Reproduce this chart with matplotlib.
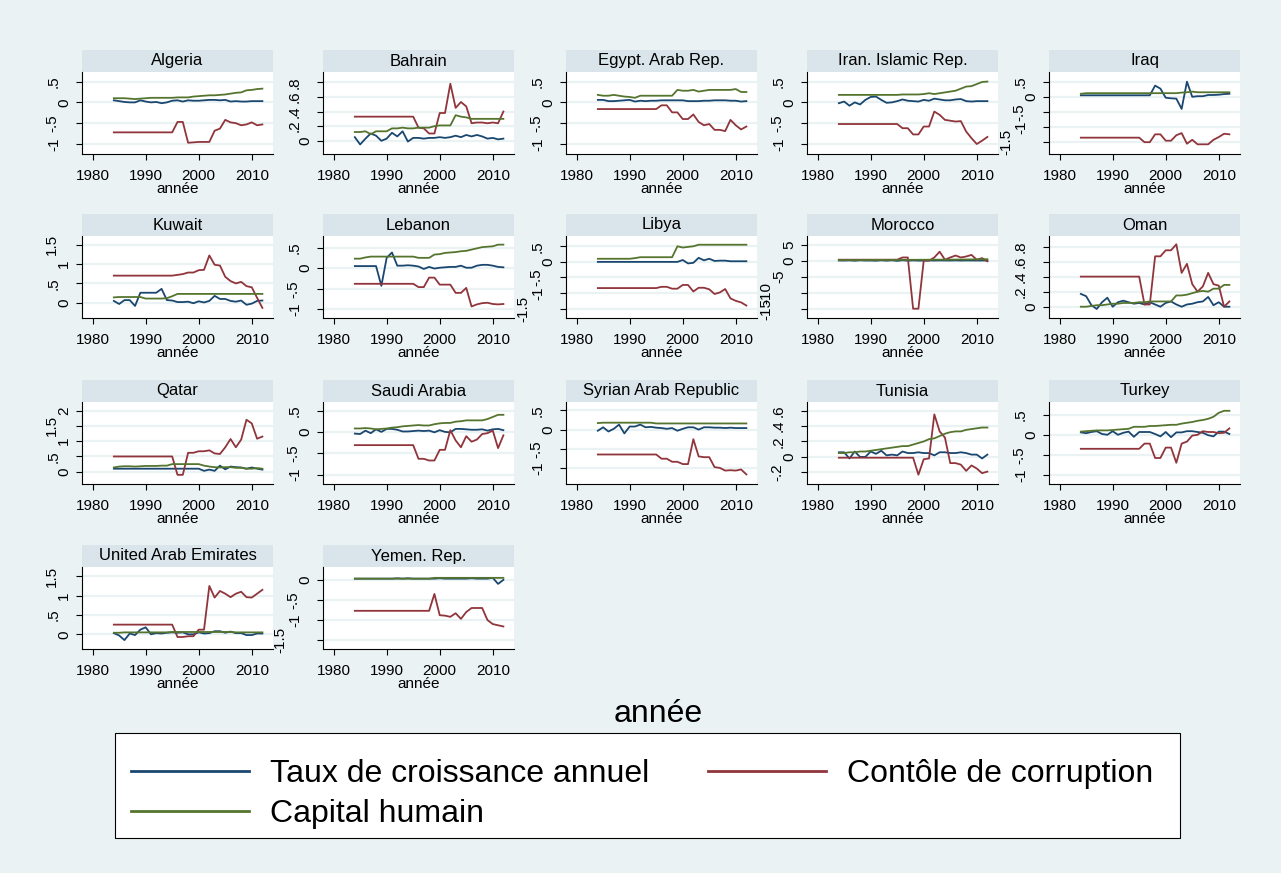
import matplotlib
matplotlib.use("Agg")
import matplotlib.pyplot as plt
import matplotlib.transforms as mtrans
from matplotlib.lines import Line2D
from matplotlib.patches import Rectangle

plt.rcParams['font.family'] = ['Liberation Sans', 'DejaVu Sans']

years = list(range(1984, 2013))

# Algeria
alg_growth = [0.05, 0.03, 0.01, 0.0, 0.0, 0.05, 0.02, 0.0, 0.01, -0.02, 0.0, 0.04, 0.05, 0.02, 0.05,
              0.04, 0.04, 0.05, 0.06, 0.06, 0.05, 0.06, 0.02, 0.03, 0.02, 0.02, 0.03, 0.03, 0.03]
alg_capital = [0.10, 0.10, 0.10, 0.09, 0.08, 0.09, 0.10, 0.11, 0.11, 0.11, 0.11, 0.11, 0.12, 0.12, 0.12,
               0.14, 0.15, 0.16, 0.17, 0.17, 0.18, 0.19, 0.21, 0.23, 0.24, 0.29, 0.30, 0.32, 0.33]
alg_corrupt = [-0.72, -0.72, -0.72, -0.72, -0.72, -0.72, -0.72, -0.72, -0.72, -0.72, -0.72, -0.72,
               -0.47, -0.47, -0.97, -0.96, -0.95, -0.95, -0.95, -0.68, -0.63, -0.42, -0.48, -0.50,
               -0.55, -0.53, -0.48, -0.55, -0.53]

# Bahrain
bhr_growth = [0.05, -0.05, 0.03, 0.10, 0.07, 0.0, 0.03, 0.11, 0.06, 0.13, -0.01, 0.04, 0.04, 0.03, 0.04,
              0.04, 0.05, 0.04, 0.05, 0.07, 0.05, 0.08, 0.06, 0.08, 0.06, 0.03, 0.04, 0.02, 0.03]
bhr_capital = [0.12, 0.12, 0.13, 0.09, 0.13, 0.13, 0.13, 0.17, 0.17, 0.18, 0.17, 0.17, 0.18, 0.18, 0.18,
               0.20, 0.21, 0.21, 0.21, 0.35, 0.33, 0.32, 0.30, 0.30, 0.30, 0.30, 0.30, 0.30, 0.30]
bhr_corrupt = [0.33, 0.33, 0.33, 0.33, 0.33, 0.33, 0.33, 0.33, 0.33, 0.33, 0.33, 0.33,
               0.18, 0.17, 0.10, 0.10, 0.38, 0.38, 0.78, 0.45, 0.53, 0.47, 0.24, 0.25, 0.25,
               0.24, 0.25, 0.24, 0.40]

# Egypt
egy_growth = [0.06, 0.06, 0.03, 0.03, 0.04, 0.05, 0.06, 0.02, 0.04, 0.03, 0.04, 0.04, 0.05, 0.05, 0.05,
              0.05, 0.05, 0.03, 0.03, 0.03, 0.04, 0.04, 0.05, 0.05, 0.05, 0.04, 0.04, 0.02, 0.03]
egy_capital = [0.18, 0.16, 0.16, 0.18, 0.16, 0.14, 0.13, 0.11, 0.16, 0.16, 0.16, 0.16, 0.16, 0.16, 0.16,
               0.30, 0.28, 0.28, 0.30, 0.26, 0.28, 0.30, 0.30, 0.30, 0.30, 0.30, 0.32, 0.25, 0.25]
egy_corrupt = [-0.16, -0.16, -0.16, -0.16, -0.16, -0.16, -0.16, -0.16, -0.16, -0.16, -0.16, -0.16,
               -0.07, -0.07, -0.24, -0.24, -0.40, -0.40, -0.29, -0.47, -0.55, -0.52, -0.66, -0.66,
               -0.69, -0.42, -0.55, -0.65, -0.58]

# Iran
irn_growth = [-0.02, 0.02, -0.08, 0.0, -0.05, 0.06, 0.13, 0.14, 0.06, -0.01, 0.0, 0.03, 0.07, 0.04, 0.03,
              0.02, 0.06, 0.04, 0.09, 0.07, 0.05, 0.05, 0.07, 0.08, 0.03, 0.02, 0.03, 0.03, 0.03]
irn_capital = [0.18, 0.18, 0.18, 0.18, 0.18, 0.18, 0.18, 0.18, 0.18, 0.18, 0.18, 0.18, 0.19, 0.19, 0.19,
               0.19, 0.20, 0.22, 0.20, 0.22, 0.24, 0.26, 0.28, 0.33, 0.38, 0.39, 0.44, 0.49, 0.50]
irn_corrupt = [-0.52, -0.52, -0.52, -0.52, -0.52, -0.52, -0.52, -0.52, -0.52, -0.52, -0.52, -0.52,
               -0.62, -0.62, -0.77, -0.77, -0.58, -0.58, -0.22, -0.30, -0.42, -0.44, -0.46, -0.45,
               -0.70, -0.86, -1.00, -0.92, -0.83]

# Iraq
irq_growth = [0.05, 0.05, 0.05, 0.05, 0.05, 0.05, 0.05, 0.05, 0.05, 0.05, 0.05, 0.05, 0.05, 0.05,
              0.37, 0.27, -0.03, -0.05, -0.06, -0.40, 0.50, 0.0, 0.02, 0.02, 0.06, 0.06, 0.07, 0.09, 0.10]
irq_capital = [0.10, 0.12, 0.12, 0.12, 0.12, 0.12, 0.12, 0.12, 0.12, 0.12, 0.12, 0.12, 0.12, 0.12, 0.12,
               0.12, 0.12, 0.12, 0.12, 0.14, 0.15, 0.17, 0.15, 0.15, 0.15, 0.15, 0.15, 0.15, 0.15]
irq_corrupt = [-1.35, -1.35, -1.35, -1.35, -1.35, -1.35, -1.35, -1.35, -1.35, -1.35, -1.35, -1.35,
               -1.50, -1.50, -1.24, -1.24, -1.45, -1.45, -1.27, -1.20, -1.55, -1.42, -1.57, -1.57,
               -1.57, -1.42, -1.33, -1.22, -1.24]

# Kuwait
kwt_growth = [0.05, -0.03, 0.07, 0.07, -0.08, 0.26, 0.26, 0.26, 0.26, 0.36, 0.07, 0.06, 0.02, 0.02, 0.03,
              -0.01, 0.04, 0.01, 0.05, 0.18, 0.10, 0.10, 0.05, 0.03, 0.06, -0.05, -0.02, 0.05, 0.06]
kwt_capital = [0.14, 0.15, 0.15, 0.15, 0.15, 0.15, 0.11, 0.11, 0.11, 0.11, 0.12, 0.17, 0.23, 0.23, 0.23,
               0.23, 0.23, 0.23, 0.23, 0.23, 0.23, 0.23, 0.23, 0.23, 0.23, 0.23, 0.23, 0.23, 0.23]
kwt_corrupt = [0.70, 0.70, 0.70, 0.70, 0.70, 0.70, 0.70, 0.70, 0.70, 0.70, 0.70, 0.70,
               0.72, 0.74, 0.78, 0.78, 0.84, 0.85, 1.22, 0.98, 0.96, 0.67, 0.56, 0.50, 0.54,
               0.43, 0.40, 0.13, -0.13]

# Lebanon
lbn_growth = [0.05, 0.05, 0.05, 0.05, 0.05, -0.43, 0.25, 0.38, 0.06, 0.06, 0.07, 0.06, 0.04, -0.02, 0.03,
              -0.01, 0.01, 0.02, 0.03, 0.03, 0.06, 0.01, 0.01, 0.06, 0.08, 0.08, 0.06, 0.03, 0.02]
lbn_capital = [0.23, 0.23, 0.26, 0.28, 0.28, 0.28, 0.28, 0.28, 0.28, 0.28, 0.28, 0.28, 0.25, 0.25, 0.25,
               0.33, 0.34, 0.37, 0.38, 0.39, 0.41, 0.42, 0.45, 0.48, 0.51, 0.52, 0.53, 0.57, 0.57]
lbn_corrupt = [-0.38, -0.38, -0.38, -0.38, -0.38, -0.38, -0.38, -0.38, -0.38, -0.38, -0.38, -0.38,
               -0.46, -0.46, -0.23, -0.23, -0.40, -0.40, -0.40, -0.60, -0.60, -0.48, -0.93, -0.88,
               -0.85, -0.84, -0.87, -0.88, -0.87]

# Libya
lby_growth = [0.0, 0.0, 0.0, 0.0, 0.0, 0.0, 0.0, 0.0, 0.0, 0.0, 0.0, 0.0, 0.0, 0.0, 0.0, 0.0,
              0.06, -0.05, -0.03, 0.13, 0.05, 0.10, 0.03, 0.04, 0.04, 0.02, 0.02, 0.02, 0.02]
lby_capital = [0.10, 0.10, 0.10, 0.10, 0.10, 0.10, 0.10, 0.12, 0.15, 0.15, 0.15, 0.15, 0.15, 0.15, 0.15,
               0.50, 0.46, 0.48, 0.50, 0.55, 0.55, 0.55, 0.55, 0.55, 0.55, 0.55, 0.55, 0.55, 0.55]
lby_corrupt = [-0.84, -0.84, -0.84, -0.84, -0.84, -0.84, -0.84, -0.84, -0.84, -0.84, -0.84, -0.84,
               -0.80, -0.80, -0.86, -0.86, -0.74, -0.74, -0.95, -0.83, -0.83, -0.88, -1.03, -0.98,
               -0.87, -1.17, -1.25, -1.30, -1.40]

# Morocco
mar_growth = [0.05, 0.03, 0.08, -0.02, 0.10, 0.03, 0.04, -0.02, 0.10, -0.01, 0.10, -0.07, 0.12, -0.02, 0.08,
              0.01, 0.01, 0.06, 0.03, 0.06, 0.05, 0.03, 0.08, 0.03, 0.06, 0.05, 0.04, 0.05, 0.03]
mar_capital = [0.20, 0.20, 0.21, 0.21, 0.22, 0.22, 0.23, 0.23, 0.24, 0.24, 0.25, 0.25, 0.26, 0.26, 0.27,
               0.27, 0.28, 0.29, 0.30, 0.31, 0.32, 0.33, 0.34, 0.36, 0.37, 0.39, 0.41, 0.43, 0.45]
mar_corrupt = [0.30, 0.30, 0.30, 0.30, 0.30, 0.30, 0.30, 0.30, 0.30, 0.30, 0.30, 0.30,
               1.0, 1.0, -15.0, -15.0, 0.0, 0.0, 1.0, 2.8, 0.3, 1.0, 1.6, 1.0, 1.3, 1.8, 0.3, 0.8, -0.2]

# Oman
omn_growth = [0.17, 0.14, 0.02, -0.03, 0.06, 0.12, 0.0, 0.06, 0.08, 0.06, 0.04, 0.05, 0.03, 0.06, 0.03,
              0.0, 0.05, 0.07, 0.03, 0.0, 0.03, 0.04, 0.06, 0.07, 0.13, 0.02, 0.06, 0.0, 0.0]
omn_capital = [0.0, 0.0, 0.01, 0.02, 0.02, 0.03, 0.04, 0.04, 0.05, 0.05, 0.05, 0.06, 0.06, 0.07, 0.07,
               0.07, 0.07, 0.07, 0.15, 0.15, 0.16, 0.18, 0.20, 0.21, 0.20, 0.24, 0.24, 0.29, 0.29]
omn_corrupt = [0.40, 0.40, 0.40, 0.40, 0.40, 0.40, 0.40, 0.40, 0.40, 0.40, 0.40, 0.40,
               0.03, 0.03, 0.67, 0.67, 0.75, 0.75, 0.83, 0.45, 0.57, 0.30, 0.20, 0.27, 0.45,
               0.30, 0.28, 0.0, 0.07]

# Qatar
qat_growth = [0.10, 0.10, 0.10, 0.10, 0.10, 0.10, 0.10, 0.10, 0.10, 0.10, 0.10, 0.10, 0.10, 0.10, 0.10,
              0.10, 0.10, 0.03, 0.07, 0.03, 0.20, 0.08, 0.17, 0.15, 0.14, 0.10, 0.14, 0.10, 0.07]
qat_capital = [0.14, 0.17, 0.18, 0.18, 0.17, 0.18, 0.19, 0.19, 0.19, 0.20, 0.20, 0.25, 0.25, 0.25, 0.25,
               0.25, 0.25, 0.20, 0.17, 0.15, 0.14, 0.15, 0.15, 0.13, 0.13, 0.10, 0.10, 0.12, 0.10]
qat_corrupt = [0.50, 0.50, 0.50, 0.50, 0.50, 0.50, 0.50, 0.50, 0.50, 0.50, 0.50, 0.50,
               -0.10, -0.10, 0.62, 0.62, 0.67, 0.67, 0.70, 0.60, 0.58, 0.80, 1.07, 0.80, 1.05,
               1.70, 1.58, 1.08, 1.15]

# Saudi Arabia
sau_growth = [-0.04, -0.05, 0.03, -0.03, 0.06, 0.0, 0.07, 0.07, 0.05, 0.01, 0.01, 0.02, 0.03, 0.02, 0.03,
              -0.01, 0.04, 0.0, -0.01, 0.07, 0.07, 0.06, 0.05, 0.05, 0.06, 0.03, 0.06, 0.07, 0.04]
sau_capital = [0.08, 0.08, 0.09, 0.08, 0.06, 0.07, 0.08, 0.10, 0.11, 0.13, 0.14, 0.15, 0.16, 0.15, 0.15,
               0.18, 0.20, 0.21, 0.21, 0.24, 0.25, 0.27, 0.27, 0.27, 0.27, 0.30, 0.35, 0.40, 0.40]
sau_corrupt = [-0.31, -0.31, -0.31, -0.31, -0.31, -0.31, -0.31, -0.31, -0.31, -0.31, -0.31, -0.31,
               -0.63, -0.63, -0.67, -0.67, -0.42, -0.42, 0.04, -0.20, -0.36, -0.10, -0.23, -0.18,
               -0.05, -0.03, 0.03, -0.38, -0.08]

# Syrian Arab Republic
syr_growth = [-0.03, 0.06, -0.05, 0.02, 0.13, -0.10, 0.08, 0.08, 0.13, 0.06, 0.07, 0.05, 0.04, 0.02, 0.04,
              -0.03, 0.02, 0.06, 0.06, 0.0, 0.06, 0.06, 0.05, 0.05, 0.04, 0.05, 0.04, 0.04, 0.04]
syr_capital = [0.17, 0.18, 0.18, 0.18, 0.18, 0.18, 0.18, 0.18, 0.18, 0.18, 0.18, 0.16, 0.16, 0.16, 0.16,
               0.16, 0.16, 0.16, 0.16, 0.16, 0.16, 0.16, 0.16, 0.16, 0.16, 0.16, 0.16, 0.16, 0.16]
syr_corrupt = [-0.65, -0.65, -0.65, -0.65, -0.65, -0.65, -0.65, -0.65, -0.65, -0.65, -0.65, -0.65,
               -0.76, -0.76, -0.84, -0.84, -0.90, -0.90, -0.25, -0.70, -0.72, -0.72, -0.98, -1.00,
               -1.07, -1.06, -1.07, -1.04, -1.17]

# Tunisia
tun_growth = [0.06, 0.06, -0.02, 0.07, 0.0, 0.0, 0.07, 0.04, 0.08, 0.02, 0.03, 0.02, 0.07, 0.05, 0.05,
              0.06, 0.05, 0.05, 0.02, 0.06, 0.06, 0.05, 0.05, 0.06, 0.05, 0.03, 0.03, -0.02, 0.03]
tun_capital = [0.05, 0.05, 0.06, 0.06, 0.07, 0.07, 0.08, 0.09, 0.10, 0.11, 0.12, 0.13, 0.14, 0.14, 0.16,
               0.18, 0.20, 0.23, 0.24, 0.27, 0.30, 0.32, 0.33, 0.33, 0.35, 0.36, 0.37, 0.38, 0.38]
tun_corrupt = [-0.01, -0.01, -0.01, -0.01, -0.01, -0.01, -0.01, -0.01, -0.01, -0.01, -0.01, -0.01,
               -0.01, -0.01, -0.01, -0.23, -0.03, -0.02, 0.55, 0.33, 0.25, -0.08, -0.08, -0.10,
               -0.18, -0.11, -0.15, -0.21, -0.19]

# Turkey
tur_growth = [0.06, 0.04, 0.07, 0.09, 0.02, 0.0, 0.09, 0.0, 0.05, 0.08, -0.05, 0.07, 0.07, 0.07, 0.02,
              -0.04, 0.07, -0.06, 0.06, 0.06, 0.09, 0.09, 0.07, 0.05, -0.01, -0.04, 0.08, 0.08, 0.02]
tur_capital = [0.08, 0.09, 0.10, 0.11, 0.11, 0.11, 0.12, 0.13, 0.14, 0.15, 0.20, 0.20, 0.20, 0.22, 0.22,
               0.23, 0.24, 0.25, 0.25, 0.28, 0.30, 0.32, 0.35, 0.37, 0.40, 0.45, 0.55, 0.60, 0.60]
tur_corrupt = [-0.35, -0.35, -0.35, -0.35, -0.35, -0.35, -0.35, -0.35, -0.35, -0.35, -0.35, -0.35,
               -0.22, -0.22, -0.58, -0.58, -0.32, -0.32, -0.70, -0.22, -0.17, -0.02, 0.0, 0.09,
               0.07, 0.07, 0.04, 0.05, 0.16]

# United Arab Emirates
are_growth = [0.03, -0.03, -0.15, 0.02, -0.02, 0.12, 0.18, 0.0, 0.03, 0.02, 0.04, 0.05, 0.04, 0.05, 0.0,
              0.0, 0.05, 0.02, 0.03, 0.08, 0.08, 0.04, 0.07, 0.03, 0.03, -0.02, -0.02, 0.02, 0.02]
are_capital = [0.04, 0.04, 0.05, 0.05, 0.05, 0.05, 0.05, 0.05, 0.05, 0.05, 0.05, 0.06, 0.06, 0.06, 0.06,
               0.06, 0.06, 0.06, 0.06, 0.06, 0.06, 0.06, 0.06, 0.05, 0.05, 0.05, 0.05, 0.05, 0.05]
are_corrupt = [0.25, 0.25, 0.25, 0.25, 0.25, 0.25, 0.25, 0.25, 0.25, 0.25, 0.25, 0.25,
               -0.07, -0.07, -0.05, -0.05, 0.12, 0.12, 1.25, 0.95, 1.12, 1.05, 0.96, 1.05, 1.10,
               0.96, 0.95, 1.05, 1.15]

# Yemen
yem_growth = [0.03, 0.03, 0.03, 0.03, 0.03, 0.03, 0.03, 0.03, 0.04, 0.03, 0.04, 0.03, 0.03, 0.03, 0.03,
              0.03, 0.04, 0.03, 0.03, 0.03, 0.03, 0.03, 0.04, 0.03, 0.03, 0.03, 0.05, -0.10, 0.0]
yem_capital = [0.03, 0.03, 0.03, 0.03, 0.03, 0.03, 0.03, 0.03, 0.03, 0.03, 0.03, 0.03, 0.03, 0.03, 0.03,
               0.05, 0.05, 0.05, 0.05, 0.05, 0.05, 0.05, 0.05, 0.05, 0.05, 0.05, 0.05, 0.05, 0.05]
yem_corrupt = [-0.77, -0.77, -0.77, -0.77, -0.77, -0.77, -0.77, -0.77, -0.77, -0.77, -0.77, -0.77,
               -0.77, -0.77, -0.77, -0.35, -0.88, -0.89, -0.92, -0.83, -0.97, -0.80, -0.70, -0.70,
               -0.70, -1.00, -1.10, -1.13, -1.16]

# name, series, y ticks, y limits
panels = [
    ("Algeria", alg_growth, alg_capital, alg_corrupt, [-1, -.5, 0, .5], (-1.24, .73)),
    ("Bahrain", bhr_growth, bhr_capital, bhr_corrupt, [0, .2, .4, .6, .8], (-.18, .94)),
    ("Egypt. Arab Rep.", egy_growth, egy_capital, egy_corrupt, [-1, -.5, 0, .5], (-1.24, .73)),
    ("Iran. Islamic Rep.", irn_growth, irn_capital, irn_corrupt, [-1, -.5, 0, .5], (-1.24, .73)),
    ("Iraq", irq_growth, irq_capital, irq_corrupt, [-1.5, -1, -.5, 0, .5], (-1.89, .82)),
    ("Kuwait", kwt_growth, kwt_capital, kwt_corrupt, [0, .5, 1, 1.5], (-.39, 1.72)),
    ("Lebanon", lbn_growth, lbn_capital, lbn_corrupt, [-1, -.5, 0, .5], (-1.21, .78)),
    ("Libya", lby_growth, lby_capital, lby_corrupt, [-1.5, -1, -.5, 0, .5], (-1.8, .83)),
    ("Morocco", mar_growth, mar_capital, mar_corrupt, [-15, -10, -5, 0, 5], (-17.9, 7.7)),
    ("Oman", omn_growth, omn_capital, omn_corrupt, [0, .2, .4, .6, .8], (-.15, .94)),
    ("Qatar", qat_growth, qat_capital, qat_corrupt, [0, .5, 1, 1.5, 2], (-.4, 2.28)),
    ("Saudi Arabia", sau_growth, sau_capital, sau_corrupt, [-1, -.5, 0, .5], (-1.22, .7)),
    ("Syrian Arab Republic", syr_growth, syr_capital, syr_corrupt, [-1, -.5, 0, .5], (-1.42, .72)),
    ("Tunisia", tun_growth, tun_capital, tun_corrupt, [-.2, 0, .2, .4, .6], (-.35, .71)),
    ("Turkey", tur_growth, tur_capital, tur_corrupt, [-1, -.5, 0, .5], (-1.23, .82)),
    ("United Arab Emirates", are_growth, are_capital, are_corrupt, [0, .5, 1, 1.5], (-.38, 1.74)),
    ("Yemen. Rep.", yem_growth, yem_capital, yem_corrupt, [-1.5, -1, -.5, 0], (-1.72, .32)),
]

BLUE = '#1a476f'
RED = '#90353b'
GREEN = '#55752f'
BG = '#eaf2f3'
STRIP = '#d9e5eb'


def stata_num(v):
    # Stata drops the leading zero: .5, -.5
    s = '%g' % v
    if abs(v) < 1:
        s = s.replace('0.', '.')
    return s


def label_offset(s):
    # Stata pushes longer rotated labels further away from the axis
    n = len(s)
    if n == 1:
        return 18
    if n == 2:
        return 28
    if n == 3 and '.' not in s:
        return 41
    if n == 3:
        return 30
    return 43


W, H = 1281, 873
fig = plt.figure(figsize=(W / 100, H / 100), dpi=100, facecolor=BG)

col_left = [82, 323, 566, 807, 1049]
row_top = [50, 214, 380, 545]
pw, strip_h, ph = 191, 22, 82

for i, (name, g, c, r, yt, yl) in enumerate(panels):
    row, col = divmod(i, 5)
    x0 = col_left[col]
    y_top = row_top[row] + strip_h
    ax = fig.add_axes([x0 / W, 1 - (y_top + ph) / H, pw / W, ph / H])
    ax.set_facecolor('white')
    ax.plot(years, g, color=BLUE, lw=1.3)
    ax.plot(years, r, color=RED, lw=1.3)
    ax.plot(years, c, color=GREEN, lw=1.3)

    ax.set_xlim(1978, 2014)
    ax.set_ylim(*yl)
    ax.set_xticks([1980, 1990, 2000, 2010])
    ax.set_yticks(yt)
    ax.tick_params(direction='out', length=4, width=0.8, labelsize=11, color='black')
    ax.tick_params(axis='x', pad=7)
    ax.tick_params(axis='y', labelleft=False)
    # rotated y labels placed by hand, the way Stata does it
    tr = mtrans.blended_transform_factory(ax.transAxes, ax.transData)
    for v in yt:
        s = stata_num(v)
        ax.text(-label_offset(s) / pw, v, s, transform=tr, rotation=90,
                ha='center', va='center', fontsize=11)
    ax.yaxis.grid(True, color=BG, lw=1.6)
    ax.set_axisbelow(True)
    for s in ['top', 'right']:
        ax.spines[s].set_visible(False)
    for s in ['left', 'bottom']:
        ax.spines[s].set_linewidth(0.8)
    ax.set_xlabel("année", fontsize=11, labelpad=-1)

    # title strip
    ax.add_patch(Rectangle((0, 1), 1, strip_h / ph, transform=ax.transAxes,
                           facecolor=STRIP, edgecolor='none', clip_on=False))
    ax.text(0.5, 1 + strip_h / ph / 2, name, transform=ax.transAxes,
            ha='center', va='center', fontsize=12)

fig.text(658 / W, 1 - 714 / H, "année", ha='center', va='center', fontsize=23)

# legend box (Stata draws it with more room above the first row)
fig.patches.append(Rectangle((115 / W, 1 - 838 / H), 1065 / W, 105 / H,
                             transform=fig.transFigure, facecolor='white',
                             edgecolor='black', lw=0.8, zorder=1))

handles = [Line2D([0], [0], color=BLUE, lw=2),
           Line2D([0], [0], color=GREEN, lw=2),
           Line2D([0], [0], color=RED, lw=2)]
labels = ["Taux de croissance annuel", "Capital humain", "Contôle de corruption"]
leg = fig.legend(handles, labels, ncol=2, loc='upper left',
                 bbox_to_anchor=(115 / W, 1 - 743 / H), borderaxespad=0,
                 fontsize=23, frameon=False,
                 handlelength=3.7, handletextpad=0.65, columnspacing=1.85,
                 borderpad=0.5, labelspacing=0.32)
leg.set_zorder(2)

fig.savefig("out.png", dpi=100, facecolor=BG)
